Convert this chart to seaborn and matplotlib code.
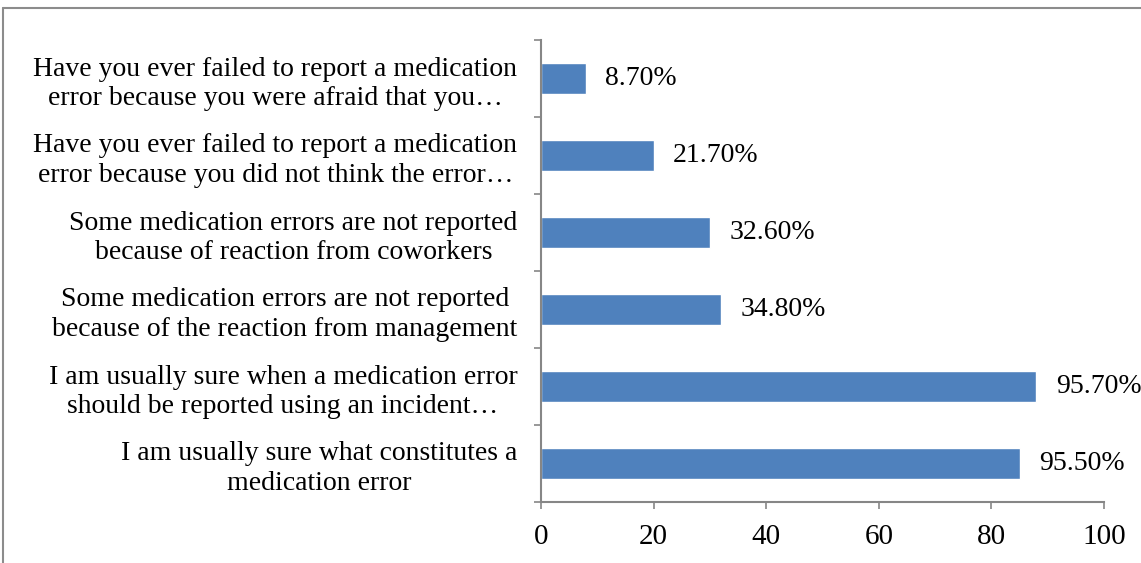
import matplotlib
matplotlib.use("Agg")
import matplotlib.pyplot as plt
import seaborn as sns
import pandas as pd
from matplotlib.lines import Line2D

categories = [
    "Have you ever failed to report a medication\nerror because you were afraid that you…",
    "Have you ever failed to report a medication\nerror because you did not think the error…",
    "Some medication errors are not reported\nbecause of reaction from coworkers",
    "Some medication errors are not reported\nbecause of the reaction from management",
    "I am usually sure when a medication error\nshould be reported using an incident…",
    "I am usually sure what constitutes a\nmedication error",
]
bar_values = [8, 20, 30, 32, 88, 85]
value_labels = ["8.70%", "21.70%", "32.60%", "34.80%", "95.70%", "95.50%"]
x_ticks = [0, 20, 40, 60, 80, 100]

df = pd.DataFrame({"question": categories, "value": bar_values})

sns.set_theme(style="white")
plt.rcParams["font.family"] = ["Liberation Serif", "DejaVu Serif"]
plt.rcParams["text.color"] = "black"
plt.rcParams["xtick.color"] = "black"
plt.rcParams["ytick.color"] = "black"

FS = 20

fig = plt.figure(figsize=(11.41, 5.63), dpi=100)
ax = fig.add_axes([541 / 1141, (563 - 502) / 563, (1104 - 541) / 1141, (502 - 40) / 563])

sns.barplot(data=df, x="value", y="question", orient="h", color="#4F81BD",
            width=0.4, saturation=1, ax=ax)

ax.set_xlim(0, 100)
ax.set_ylim(len(categories) - 0.5, -0.5)
ax.set_xticks(x_ticks)
ax.set_xticklabels([str(t) for t in x_ticks], fontsize=FS + 1, color="black")
ax.set_xlabel("")
ax.set_ylabel("")

# category separator ticks (Excel style)
ax.set_yticks([i - 0.5 for i in range(len(categories) + 1)], minor=False)
ax.set_yticklabels([""] * (len(categories) + 1))
ax.set_yticks(range(len(categories)), minor=True)
ax.set_yticklabels(categories, minor=True, fontsize=FS, ha="right",
                   multialignment="center", color="black", linespacing=1.25)
ax.tick_params(axis="y", which="minor", length=0, pad=17)
ax.tick_params(axis="y", which="major", length=5, width=1.2, color="#868686", left=True)
ax.tick_params(axis="x", length=5, width=1.2, color="#868686", labelcolor="black",
               bottom=True, pad=11)

for s in ["top", "right"]:
    ax.spines[s].set_visible(False)
for s in ["left", "bottom"]:
    ax.spines[s].set_color("#868686")
    ax.spines[s].set_linewidth(1.5)

for i, (v, lab) in enumerate(zip(bar_values, value_labels)):
    ax.annotate(lab, xy=(v, i), xytext=(14, 0), textcoords="offset points",
                ha="left", va="center", fontsize=FS, color="black", annotation_clip=False)

# figure frame (chart area border)
fx = 3 / 1141
fy = 1 - 8 / 563
fig.add_artist(Line2D([fx, fx], [0, fy], transform=fig.transFigure, color="#8c8c8c", lw=1.5))
fig.add_artist(Line2D([fx, 1], [fy, fy], transform=fig.transFigure, color="#8c8c8c", lw=1.5))

fig.savefig("out.png", dpi=100)
